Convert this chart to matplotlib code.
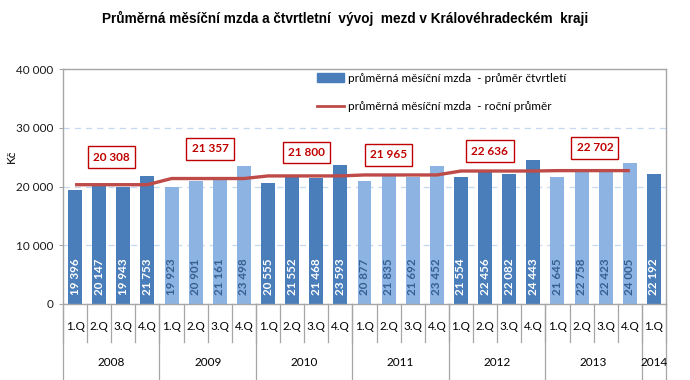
import matplotlib
matplotlib.use("Agg")
import matplotlib.pyplot as plt
import matplotlib.transforms as mtransforms
from matplotlib.patches import Patch
from matplotlib.lines import Line2D

plt.rcParams['font.family'] = ['Lato', 'DejaVu Sans']

years = ["2008", "2009", "2010", "2011", "2012", "2013", "2014"]
quarters_per_year = [4, 4, 4, 4, 4, 4, 1]
quarter_labels = ["1.Q", "2.Q", "3.Q", "4.Q"]
quarterly = [19396, 20147, 19943, 21753,
             19923, 20901, 21161, 23498,
             20555, 21552, 21468, 23593,
             20877, 21835, 21692, 23452,
             21554, 22456, 22082, 24443,
             21645, 22758, 22423, 24005,
             22192]
annual = [20308, 21357, 21800, 21965, 22636, 22702]
annual_label_x = [1.5, 5.6, 9.6, 13.0, 17.2, 21.55]
annual_label_y = [25000, 26400, 25800, 25400, 26000, 26600]

title = "Průměrná měsíční mzda a čtvrtletní  vývoj  mezd v Královéhradeckém  kraji"
legend_bar = "průměrná měsíční mzda  - průměr čtvrtletí"
legend_line = "průměrná měsíční mzda  - roční průměr"
ylabel = "Kč"

DARK = "#4A7EBB"
LIGHT = "#8DB3E2"
RED = "#BE4B48"
GRAY = "#A6A6A6"

def fmt(v):
    return f"{v:,}".replace(",", " ")

fig = plt.figure(figsize=(6.9, 3.8), dpi=100)
ax = fig.add_axes([63/690, 1-304/380, 603/690, 235/380])

xs, colors, qlabels, year_idx = [], [], [], []
i = 0
for yi, n in enumerate(quarters_per_year):
    for q in range(n):
        xs.append(i)
        colors.append(DARK if yi % 2 == 0 else LIGHT)
        qlabels.append(quarter_labels[q])
        year_idx.append(yi)
        i += 1

ax.bar(xs, quarterly, width=0.58, color=colors, zorder=2)

for x, v, c in zip(xs, quarterly, colors):
    tc = "white" if c == DARK else "#35608F"
    ax.text(x, 1500, fmt(v), rotation=90, ha="center", va="bottom",
            color=tc, fontsize=8.4, fontweight="bold", zorder=4)

line_x, line_y = [], []
for x, yi in zip(xs, year_idx):
    if yi < len(annual):
        line_x.append(x)
        line_y.append(annual[yi])
ax.plot(line_x, line_y, color=RED, lw=2.4, zorder=3, solid_capstyle="butt")

for lx, ly, v in zip(annual_label_x, annual_label_y, annual):
    ax.text(lx, ly, fmt(v), ha="center", va="center", color="#C00000",
            fontsize=8.5, fontweight="bold", zorder=5,
            bbox=dict(boxstyle="square,pad=0.45", fc="white", ec="#C00000", lw=1))

ax.set_xlim(-0.5, len(xs) - 0.5)
ax.set_ylim(0, 40000)
ax.set_yticks([0, 10000, 20000, 30000, 40000])
ax.set_yticklabels([fmt(v) for v in [0, 10000, 20000, 30000, 40000]], fontsize=8.5, color="#1a1a1a")
ax.yaxis.grid(True, color="#C6D9F1", linestyle=(0, (5, 4)), lw=0.9, zorder=0)
ax.tick_params(axis="y", length=3, color=GRAY, pad=4)
ax.set_xticks([])
for s in ax.spines.values():
    s.set_color(GRAY)
    s.set_linewidth(1.0)

ax.text(-0.085, 0.63, ylabel, transform=ax.transAxes, rotation=90,
        ha="center", va="center", fontsize=8.5)

trans = mtransforms.blended_transform_factory(ax.transData, ax.transAxes)
for x, lab in zip(xs, qlabels):
    ax.text(x, -0.094, lab, transform=trans, ha="center", va="center", fontsize=8.5)
for b in range(len(xs) + 1):
    ax.add_line(Line2D([b - 0.5, b - 0.5], [0, -0.162], transform=trans,
                       color=GRAY, lw=0.9, clip_on=False))
start = 0
for yi, n in enumerate(quarters_per_year):
    ax.add_line(Line2D([start - 0.5, start - 0.5], [0, -0.34], transform=trans,
                       color=GRAY, lw=0.9, clip_on=False))
    ax.text(start + (n - 1) / 2, -0.251, years[yi], transform=trans,
            ha="center", va="center", fontsize=8.5)
    start += n
ax.add_line(Line2D([start - 0.5, start - 0.5], [0, -0.34], transform=trans,
                   color=GRAY, lw=0.9, clip_on=False))

handles = [Patch(color=DARK), Line2D([0], [0], color=RED, lw=2)]
ax.legend(handles, [legend_bar, legend_line], loc="upper left",
          bbox_to_anchor=(0.421, 0.985), frameon=False, fontsize=8.5,
          handlelength=2.3, handleheight=0.7, handletextpad=0.3,
          labelspacing=1.45, borderpad=0, borderaxespad=0)

fig.text(0.5, 1 - 18/380, title, ha="center", va="center", fontsize=9.8,
         fontweight="bold", family=["Liberation Sans Narrow", "Liberation Sans", "DejaVu Sans"])

fig.savefig("out.png", dpi=100)
